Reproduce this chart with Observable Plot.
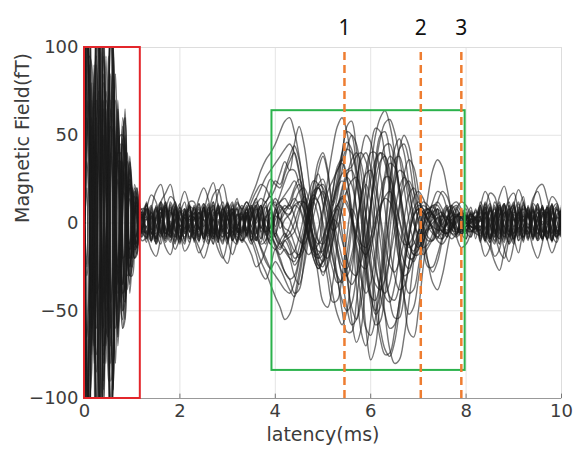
<!DOCTYPE html>
<html><head><meta charset="utf-8">
<script src="https://cdn.jsdelivr.net/npm/d3@7"></script>
<script src="https://cdn.jsdelivr.net/npm/@observablehq/plot@0.6"></script>
<style>body{margin:0;background:#fff}#chart{width:574px;height:460px}</style>
</head><body><div id="chart"></div>
<script>
// sample times (ms)
const latency = [0,0.05,0.1,0.15,0.2,0.25,0.3,0.35,0.4,0.45,0.5,0.55,0.6,0.65,0.7,0.75,0.8,0.85,0.9,0.95,1,1.05,1.1,1.15,1.2,
1.3,1.4,1.5,1.6,1.7,1.8,1.9,2,2.1,2.2,
2.3,2.4,2.5,2.6,2.7,2.8,2.9,3,3.1,3.2,
3.3,3.4,3.5,3.6,3.7,3.8,3.9,4,4.1,4.2,
4.3,4.4,4.5,4.6,4.7,4.8,4.9,5,5.1,5.2,
5.3,5.4,5.5,5.6,5.7,5.8,5.9,6,6.1,6.2,
6.3,6.4,6.5,6.6,6.7,6.8,6.9,7,7.1,7.2,
7.3,7.4,7.5,7.6,7.7,7.8,7.9,8,8.1,8.2,
8.3,8.4,8.5,8.6,8.7,8.8,8.9,9,9.1,9.2,
9.3,9.4,9.5,9.6,9.7,9.8,9.9,10];

// channel waveforms (fT)
const ch01 = [0,140,60,-70,-20,130,110,-10,-90,-40,60,130,70,-30,-60,10,55,40,-15,-30,-5,20,12,-8,-4,
6,-4,9,-7,-2,11,-5,3,-10,4, -7,5,11,-3,-9,2,-5,9,-1,-10, 4,-7,2,-10,6,12,-3,5,10,8,
12,20,25,18,5,-10,-22,-25,-15,0, 15,30,42,50,45,28,5,-20,-42,-60, -72,-76,-68,-50,-28,-8,5,10,8,2,
-4,-10,-12,-8,-2,4,6,3,-2,-4, 4,-11,7,1,-8,9,-4,-12,5,8, 5,-7,3,9,-5,-10,4,7];
const ch02 = [0,-130,-50,60,30,-120,-115,0,85,50,-50,-125,-80,20,55,15,-50,-45,10,32,10,-15,-14,5,6,
-9,3,-2,10,-6,5,12,-3,-8,2, 2,9,-6,-12,4,7,-8,5,12,-4, -10,3,8,14,-2,-6,-12,4,2,-3,
-5,-12,-20,-15,-5,10,22,25,15,2, -15,-32,-48,-58,-55,-38,-15,10,32,48, 57,59,52,38,20,2,-10,-14,-10,-4,
4,12,18,15,6,-2,-6,-4,0,3, -3,8,-9,4,12,-6,2,-10,7,-5, -6,8,-3,-9,6,2,-8,5];
const ch03 = [0,80,120,20,-80,-30,100,120,20,-70,-50,60,90,20,-40,-35,20,45,10,-25,-15,8,15,2,-6,
4,-11,7,1,-8,9,-4,-12,5,8, -5,-10,3,8,-7,10,-2,-9,6,1, -5,4,12,18,22,20,15,20,28,35,
30,45,55,45,25,0,-20,-30,-22,-8, 10,5,-25,-55,-68,-60,-30,5,35,50, 52,40,15,-15,-42,-62,-65,-50,-25,-5,
8,12,8,0,-6,-8,-4,2,5,3, 10,-2,-8,6,-4,-11,8,3,-6,11, 3,12,20,22,14,2,-6,4];
const ch04 = [0,-90,-125,-30,75,40,-95,-130,-25,75,55,-55,-95,-30,40,45,-10,-40,-15,20,18,-5,-14,-4,5,
-3,8,-9,4,12,-6,2,-10,7,-5, 8,1,-9,5,10,-4,-11,2,-3,9, -8,-12,-18,-25,-22,-15,-8,-12,-18,-15,
-20,-30,-35,-25,-8,12,30,38,28,10, 18,38,55,58,42,15,-15,-40,-52,-48, -30,-5,22,42,50,44,28,8,-10,-22,
-28,-22,-10,2,10,12,8,2,-4,-6, -7,5,11,-3,-9,2,-5,9,-1,-10, 9,-2,-10,4,8,-6,3,-7];
const ch05 = [0,60,30,-40,-10,70,55,0,-45,-15,30,65,40,-10,-30,5,30,20,-10,-15,0,12,6,-5,0,
10,-2,-8,6,-4,-11,8,3,-6,11, -11,6,-1,-6,9,-8,4,11,-5,-2, 3,8,15,22,30,36,40,45,52,58,
60,52,38,20,5,-8,-18,-22,-15,-5, 8,20,28,30,22,8,-10,-25,-35,-38, -32,-20,-5,10,20,24,18,8,-2,-8,
-10,-5,2,8,10,6,0,-4,-5,-3, 2,9,-6,-12,4,7,-8,5,12,-4, -4,10,-6,1,-9,7,11,-3];
const ch06 = [0,150,80,-60,-40,110,135,20,-70,-60,40,120,95,-5,-65,-20,50,60,0,-40,-20,15,20,0,-10,
-8,4,-3,12,17,22,10,-2,7,-5, 6,-4,9,-7,-2,11,-5,3,-10,4, 5,-4,10,-6,2,-10,8,12,-3,2,
5,10,8,0,-10,-18,-20,-12,0,12, 22,28,30,32,38,40,35,22,0,-25, -52,-72,-80,-78,-65,-45,-22,-5,5,8,
5,0,-5,-6,-2,3,6,4,0,-3, -5,-10,3,8,-7,10,-2,-9,6,1, 7,-9,2,-5,10,-3,-8,6];
const ch07 = [0,-65,-35,35,15,-75,-60,-5,50,25,-25,-70,-45,10,35,5,-35,-25,8,20,5,-12,-10,4,3,
2,9,-6,-12,4,7,-8,5,12,-4, -9,3,-2,10,-6,5,12,-3,-8,2, 6,-4,-10,-5,5,12,15,10,12,14,
10,18,22,15,2,-12,-20,-18,-8,2, 0,-10,-20,-28,-30,-22,-8,10,25,35, 38,30,10,-15,-32,-40,-38,-25,-5,15,
30,36,32,20,5,-8,-14,-12,-6,0, 8,1,-9,5,10,-4,-11,2,-3,9, 7,4,-10,-5,9,3,-7,5];
const ch08 = [0,-145,-70,70,35,-135,-120,15,95,55,-65,-140,-85,25,70,20,-60,-55,10,38,12,-20,-18,6,8,
-5,-10,3,8,-7,10,-2,-9,6,1, 4,-11,7,1,-8,9,-4,-12,5,8, -6,8,-2,10,-5,-12,3,-8,9,6,
5,10,12,8,0,-8,-12,-8,0,6, 10,14,10,2,-8,-15,-18,-12,-2,8, 15,18,12,2,-8,-14,-12,-5,2,6,
5,2,-2,-4,-3,0,3,4,2,0, -11,6,-1,-6,9,-8,4,11,-5,-2, 5,-8,2,6,-9,-3,8,-6];
const ch09 = [0,45,70,15,-45,-20,55,70,15,-40,-30,35,55,15,-25,-25,10,30,10,-15,-12,5,10,2,-4,
8,1,-9,5,10,-4,-11,2,-3,9, -3,8,-9,4,12,-6,2,-10,7,-5, -4,6,-10,4,10,-2,-5,-12,-15,-10,
-8,-5,5,15,10,-10,-30,-45,-48,-35, -12,10,18,0,-35,-62,-70,-55,-25,5, 28,38,35,20,2,-12,-18,-15,-8,-2,
2,5,6,3,-1,-4,-5,-2,1,2, 6,-4,9,-7,-2,11,-5,3,-10,4, -7,3,-6,8,4,-10,-2,9];
const ch10 = [0,110,45,-55,-15,115,95,-15,-80,-30,55,110,60,-25,-50,5,45,35,-12,-25,-5,15,10,-6,-2,
-11,6,-1,-6,9,-8,4,11,-5,-2, 10,-2,-8,6,-4,-11,8,3,-6,11, 8,12,6,0,8,18,25,22,20,28,
35,40,30,12,-5,-15,-12,5,25,42, 55,60,52,32,8,-12,-20,-10,12,32, 44,45,35,15,-5,-18,-22,-15,-5,2,
6,8,5,0,-4,-5,-3,0,2,2, -9,3,-2,10,-6,5,12,-3,-8,2, -3,11,7,-9,1,-6,10,-4];
const ch11 = [0,-120,-80,50,45,-105,-125,-20,80,60,-35,-115,-90,5,60,30,-40,-55,-5,35,20,-10,-18,-2,8,
7,-5,-11,3,9,-2,5,-9,1,10, -6,4,-9,7,2,-11,5,-3,10,-4, -7,4,-11,7,-3,10,-8,2,6,10,
8,12,18,20,14,2,-10,-18,-20,-10, 2,14,26,36,40,34,18,-2,-22,-40, -52,-60,-58,-45,-25,-8,4,8,6,1,
-3,-8,-9,-5,0,4,5,2,-2,-3, -4,11,-7,-1,8,-9,4,12,-5,-8, 6,-8,-3,10,-5,2,-9,7];
const ch12 = [0,125,75,-50,-45,100,130,25,-75,-65,30,120,100,5,-60,-35,35,60,15,-30,-25,5,18,5,-8,
-2,-9,6,12,-4,-7,8,-5,-12,4, 3,-8,6,17,23,10,-4,6,-10,-3, 6,12,6,-4,-12,-10,-2,-8,-14,-10,
-15,-24,-20,-8,8,22,28,18,4,-12, -30,-50,-62,-62,-45,-20,6,30,50,60, 64,56,40,20,0,-12,-16,-10,-2,4,
12,18,16,8,0,-5,-5,-2,2,3, 3,-8,9,-4,-12,6,-2,10,-7,5, -5,7,-3,-9,5,10,-4,-7];
const ch13 = [0,-75,-115,-25,70,35,-90,-115,-20,65,45,-55,-85,-20,35,35,-15,-40,-12,22,15,-6,-12,-3,5,
5,10,-3,-8,7,-10,2,9,-6,-1, 9,-3,2,-10,6,-5,-12,3,8,-2, -11,-6,4,10,14,12,18,24,22,30,
38,44,36,20,2,-14,-24,-22,-10,2, 8,-5,-30,-48,-55,-45,-20,10,30,40, 38,25,2,-22,-42,-52,-48,-32,-12,2,
10,10,5,-2,-6,-6,-2,2,4,2, -10,2,8,-6,4,11,-8,-3,6,-11, 6,-8,3,9,-6,-2,8,-5];
const ch14 = [0,70,40,-35,-20,60,75,10,-40,-35,20,70,55,0,-35,-20,20,35,5,-20,-12,6,12,2,-5,
-8,-1,9,-5,-10,4,11,-2,3,-9, -4,11,-7,-1,8,-9,4,12,-5,-8, -10,-4,-10,-18,-28,-32,-25,-15,-20,-28,
-32,-40,-38,-22,0,20,35,40,30,12, 22,40,52,50,32,5,-22,-42,-50,-40, -20,5,28,42,45,36,18,0,-15,-25,
-25,-18,-8,2,8,10,6,0,-4,-5, -2,-9,-14,-22,-27,-16,-6,5,-3,4, -9,2,10,-4,-8,6,-3,7];
const ch15 = [0,-150,-60,80,25,-140,-110,20,100,45,-70,-135,-75,35,65,10,-60,-45,15,35,8,-20,-15,8,6,
11,-6,1,6,-9,8,-4,-11,5,2, 3,-8,9,-4,-12,6,-2,10,-7,5, 10,4,-6,-14,-22,-28,-35,-42,-48,-55,
-52,-42,-28,-12,2,12,20,22,15,4, -8,-20,-30,-35,-30,-15,5,24,36,40, 34,22,6,-10,-22,-26,-20,-10,0,6,
10,6,0,-6,-9,-6,-1,3,5,3, 7,-5,-11,3,9,-2,5,-9,1,10, 4,-10,6,-1,9,-7,-11,3];
const ch16 = [0,95,130,35,-70,-45,85,135,35,-60,-65,40,100,35,-30,-45,5,50,25,-20,-25,0,15,6,-5,
11,-6,3,8,-11,-4,6,-8,-2,10, 1,6,-9,-2,10,-7,8,3,-10,-5, -3,9,-10,2,10,-5,6,-6,2,8,
10,4,-6,-14,-18,-14,-4,8,18,24, 30,36,42,40,30,15,-5,-28,-50,-66, -75,-74,-62,-45,-25,-8,4,8,6,2,
-2,-4,-4,-1,2,4,3,0,-2,-3, 4,-10,3,-5,11,-2,-7,9,-4,6, -3,8,-7,4,-10,5,9,-6];
const ch17 = [0,135,55,-75,-25,125,105,-20,-95,-35,65,135,65,-35,-65,5,60,45,-15,-35,-8,22,14,-8,-5,
-5,7,-10,2,-6,12,4,-9,8,-3, 9,-3,2,-11,-4,10,5,-9,1,8, -10,-6,3,8,4,-6,-12,-15,-10,-6,
-10,-16,-18,-10,2,14,20,16,6,-4, -2,8,18,24,26,18,4,-12,-26,-36, -40,-34,-16,8,28,36,32,18,-2,-22,
-34,-38,-30,-16,-2,8,12,10,4,-2, 2,-8,-3,12,5,-6,10,-2,3,-9, 10,-4,6,-8,-2,9,-6,3];
const ch18 = [0,-100,-50,45,20,-105,-85,10,70,35,-45,-105,-60,20,50,10,-40,-35,10,25,6,-14,-10,5,3,
8,5,-12,-4,9,-8,1,7,-11,4, -10,-1,9,-5,2,-9,-3,11,5,-7, 9,-4,6,-10,3,-7,10,-2,8,-8,
-6,0,8,12,8,-2,-10,-12,-6,2, 10,15,12,4,-6,-12,-14,-8,2,10, 14,12,4,-6,-12,-12,-6,2,7,8,
4,-1,-5,-6,-3,1,4,4,1,-2, -4,12,5,-8,7,4,-12,-6,9,2, -8,2,11,-5,7,-9,4,-2];
const ch19 = [0,55,90,30,-55,-35,70,100,25,-50,-45,40,75,25,-30,-35,10,40,15,-20,-18,4,12,4,-4,
2,-8,-3,12,5,-6,10,-2,3,-9, 6,-4,9,-7,3,-9,-19,-23,-9,5, 2,10,-5,8,-9,4,-6,8,2,-6,
-12,-20,-18,-8,6,12,4,-14,-32,-45, -44,-30,-8,8,2,-28,-60,-78,-70,-42, -10,20,36,38,28,12,0,-6,-6,-3,
0,3,4,3,0,-3,-4,-2,0,2, 1,6,-9,-2,10,-7,8,3,-10,-5, 4,-9,-1,8,-6,11,-4,-8];
const ch20 = [0,-85,-120,-30,80,45,-100,-125,-30,70,60,-50,-95,-30,40,40,-15,-45,-15,25,18,-6,-14,-4,6,
4,-10,3,-5,11,-2,-7,9,-4,6, -2,-5,11,4,-8,9,-6,-1,6,-11, 4,-6,-12,-8,-15,-22,-26,-22,-26,-32,
-38,-42,-32,-14,4,14,12,-5,-24,-40, -52,-58,-50,-30,-6,14,22,12,-10,-30, -42,-45,-36,-18,2,16,20,14,4,-2,
-6,-8,-5,0,4,5,3,0,-2,-2, 9,-3,2,-11,-4,10,5,-9,1,8, -1,7,-9,5,3,-10,8,-5];
const ch21 = [0,30,95,90,-10,-85,-60,45,105,40,-60,-80,10,70,45,-25,-50,-10,35,25,-12,-20,0,12,4,
3,-7,10,-4,-9,6,1,-11,8,-2, -9,2,8,-6,12,-4,-8,7,-1,-11, 5,-3,8,14,20,26,30,34,38,42,
45,40,28,12,-4,-16,-24,-28,-24,-12, 4,18,26,22,8,-12,-30,-42,-44,-32, -14,6,22,30,28,18,4,-8,-14,-12,
-6,3,-1,8,-4,2,7,-5,-8,3, 10,-5,-9,3,8,-2,-12,6,4,-8, 6,-5,9,-8,2,-10,5,7];
const ch22 = [0,-40,-100,-85,15,90,55,-50,-100,-30,55,85,0,-60,-45,20,48,15,-30,-25,8,18,2,-8,-3,
-6,8,18,22,10,-6,-15,-8,4,7, 5,11,-3,-8,2,-10,6,10,-7,-3, -4,6,-2,-8,-14,-20,-26,-30,-34,-38,
-40,-34,-22,-8,6,16,22,20,10,-4, -18,-28,-30,-22,-6,14,30,40,40,28, 8,-14,-30,-38,-36,-24,-8,6,12,10,
5,-6,2,-8,4,9,-3,-6,7,1, -2,6,-11,9,-3,-8,10,-6,2,12, -9,4,-2,10,-7,3,-5,8];
const ch23 = [0,20,-50,-60,10,60,40,-30,-60,-10,45,55,5,-40,-30,15,35,10,-20,-15,5,10,0,-6,2,
10,-5,-9,3,8,-2,-12,6,4,-8, -4,-9,7,4,-12,8,3,-6,11,-1, 3,-6,4,9,-3,6,12,8,2,6,
10,14,10,2,-8,-16,-18,-10,4,18, 30,34,26,8,-14,-32,-40,-34,-16,6, 24,34,32,20,4,-10,-18,-18,-12,-4,
-2,8,-5,3,9,-7,1,-4,6,-9, 9,18,12,-5,-16,-20,-8,10,19,12, 4,14,18,8,-9,-17,-10,3];
const ch24 = [0,-25,40,55,-5,-60,-45,25,65,20,-40,-60,-10,40,35,-10,-35,-15,20,22,0,-12,-5,6,3,
-2,6,-11,9,-3,-8,10,-6,2,12, 12,-3,-6,9,-8,1,-10,4,8,-5, -5,4,-8,2,9,-4,-10,-6,-12,-16,
-20,-22,-14,-2,10,16,12,0,-14,-26, -34,-32,-18,2,22,36,40,32,12,-10, -30,-42,-44,-36,-20,-4,8,12,8,2,
7,-4,-9,2,6,-2,-8,5,-3,8, -10,-19,-14,2,15,21,9,-8,-17,-6, -5,-14,-20,-11,6,15,12,-2];
const ch25 = [0,100,150,40,-60,-100,-20,80,120,10,-90,-70,30,85,30,-45,-55,5,40,15,-20,-15,8,10,-2,
7,-10,4,11,-6,-1,9,-9,-4,5, -7,-14,-20,-12,4,17,22,10,-9,-12, 8,2,-6,4,10,-2,-8,5,12,16,
20,24,18,6,-8,-20,-26,-22,-8,10, 26,40,46,42,26,2,-24,-46,-58,-56, -40,-18,4,20,26,22,12,2,-6,-10,
-10,-3,4,9,-2,5,-6,-9,3,6, 5,11,-3,-8,2,-10,6,10,-7,-3, 8,-3,-9,6,-1,10,-7,-5];
const ch26 = [0,-110,-140,-20,80,95,0,-90,-110,0,95,65,-35,-80,-20,50,50,-10,-38,-10,20,12,-8,-8,3,
-9,2,8,-6,12,-4,-8,7,-1,-11, 3,-7,10,-4,-9,6,1,-11,8,-2, -6,5,10,-2,-9,3,8,-4,-10,-14,
-18,-16,-8,4,16,24,22,10,-6,-20, -32,-44,-50,-46,-30,-6,20,42,54,52, 38,18,-4,-22,-30,-28,-18,-6,4,8,
9,4,-3,-8,2,-6,5,8,-5,-2, -4,-9,7,4,-12,8,3,-6,11,-1, -10,6,3,-7,9,-4,-8,10];
const ch27 = [0,35,10,-25,-5,40,30,-5,-30,-10,25,40,20,-10,-22,0,18,15,-5,-12,-2,8,5,-3,-2,
8,16,12,-2,-14,-18,-6,10,18,9, -8,-17,-12,4,16,19,8,-9,-18,-10, 2,-7,6,10,-5,3,9,14,10,6,
2,-4,-10,-12,-6,4,14,18,12,0, -14,-24,-26,-18,-2,16,28,30,20,4, -12,-24,-28,-22,-10,4,14,18,14,6,
-4,-9,5,-1,7,3,-7,2,9,-6, 12,4,-10,-19,-15,2,14,17,6,-8, 4,-6,11,-2,-9,7,1,-8];
const ch28 = [0,-30,-15,25,10,-40,-35,0,30,15,-20,-45,-25,8,25,5,-20,-18,4,14,4,-8,-6,3,2,
-6,-15,-19,-8,7,15,12,-3,-16,-12, 3,14,20,13,-4,-15,-20,-10,5,14, -3,8,-5,-10,4,9,-2,-8,-12,-8,
-2,6,12,12,4,-8,-16,-16,-6,8, 20,24,18,4,-12,-24,-26,-16,0,16, 26,26,16,2,-12,-20,-20,-12,-2,6,
3,8,-2,-6,10,-4,-1,6,-8,4, -8,6,17,15,0,-15,-22,-12,6,15, -3,9,-8,5,6,-11,3,2];
const ch29 = [0,120,90,-40,-70,60,140,60,-60,-80,10,110,100,-10,-70,-40,30,65,20,-30,-30,5,20,8,-8,
12,-3,-6,9,-8,1,-10,4,8,-5, -2,6,-11,9,-3,-8,10,-6,2,12, 6,-8,3,12,6,-5,-2,8,16,24,
30,30,22,8,-8,-20,-26,-20,-4,16, 32,36,26,6,-20,-44,-60,-64,-54,-30, -2,24,42,48,40,22,2,-12,-18,-14,
-9,-1,6,10,-3,-7,4,-5,2,7, 3,-7,10,-4,-9,6,1,-11,8,-2, 9,-7,1,-10,4,8,-6,-3];
const ch30 = [0,-95,-110,10,90,20,-110,-95,20,95,30,-90,-80,10,65,25,-40,-45,0,30,15,-10,-14,0,6,
-7,4,-12,2,10,-5,7,-3,-9,9, 7,-10,4,11,-6,-1,9,-9,-4,5, -8,3,9,-4,-11,2,-6,-14,-22,-28,
-32,-30,-20,-6,8,18,20,12,-2,-18, -30,-34,-24,-4,20,40,50,46,28,2, -24,-44,-54,-54,-42,-24,-6,6,10,8,
5,-2,-7,4,-5,8,2,-9,6,-3, -6,9,-1,-10,5,11,-7,2,-4,7, -6,3,8,-9,-2,11,-5,6];

const channels = [ch01,ch02,ch03,ch04,ch05,ch06,ch07,ch08,ch09,ch10,
  ch11,ch12,ch13,ch14,ch15,ch16,ch17,ch18,ch19,ch20,
  ch21,ch22,ch23,ch24,ch25,ch26,ch27,ch28,ch29,ch30];

const xTicks = [0, 2, 4, 6, 8, 10];
const yTicks = [-100, -50, 0, 50, 100];
const markerTimes = [5.45, 7.05, 7.9];
const markerLabels = ["1", "2", "3"];
const artifactBox = [{x1: 0, x2: 1.17, y1: -100, y2: 100}];
const responseBox = [{x1: 3.93, x2: 7.98, y1: -84, y2: 64}];

const rows = channels.flatMap((arr, c) => arr.map((v, i) => ({t: latency[i], v, c})));

const chart = Plot.plot({
  width: 574, height: 460,
  marginLeft: 84, marginRight: 13, marginTop: 47, marginBottom: 62,
  x: {domain: [0, 10]},
  y: {domain: [-100, 100]},
  style: {fontFamily: "DejaVu Sans", fontSize: "18px", color: "#3c3c3c", background: "#fff"},
  marks: [
    Plot.gridX(xTicks, {stroke: "#e4e4e4", strokeOpacity: 1}),
    Plot.gridY(yTicks, {stroke: "#e4e4e4", strokeOpacity: 1}),
    Plot.frame({stroke: "#dddddd"}),
    Plot.line(rows, {x: "t", y: "v", z: "c", stroke: "#1a1a1a", strokeOpacity: 0.6, strokeWidth: 1.4, curve: "catmull-rom", clip: true}),
    Plot.ruleY([-100], {stroke: "#999"}),
    Plot.ruleX(xTicks, {y1: -100, y2: -97.5, stroke: "#777"}),
    Plot.axisX(xTicks, {tickSize: 0, tickPadding: 6, label: null, fontSize: 18, fill: "#3c3c3c"}),
    Plot.axisY(yTicks, {tickSize: 0, tickPadding: 6, label: null, fontSize: 18, fill: "#3c3c3c"}),
    Plot.rect(artifactBox, {x1: "x1", x2: "x2", y1: "y1", y2: "y2", fill: "none", stroke: "#e3262b", strokeWidth: 2}),
    Plot.rect(responseBox, {x1: "x1", x2: "x2", y1: "y1", y2: "y2", fill: "none", stroke: "#2bb24c", strokeWidth: 2}),
    Plot.ruleX(markerTimes, {y1: -100, y2: 100, stroke: "#ee7d31", strokeWidth: 2.5, strokeDasharray: "8,5"}),
    Plot.text(markerLabels, {x: (d, i) => markerTimes[i], text: d => d, frameAnchor: "top", dy: -27, fontSize: 21, fill: "#111", fontFamily: "Noto Sans"}),
    Plot.text(["Magnetic Field(fT)"], {frameAnchor: "left", dx: -62, rotate: -90, text: d => d, fontSize: 19, fill: "#3c3c3c"}),
    Plot.text(["latency(ms)"], {frameAnchor: "bottom", dy: 42, text: d => d, fontSize: 19, fill: "#3c3c3c"})
  ]
});
document.getElementById("chart").appendChild(chart);
</script>
</body></html>
